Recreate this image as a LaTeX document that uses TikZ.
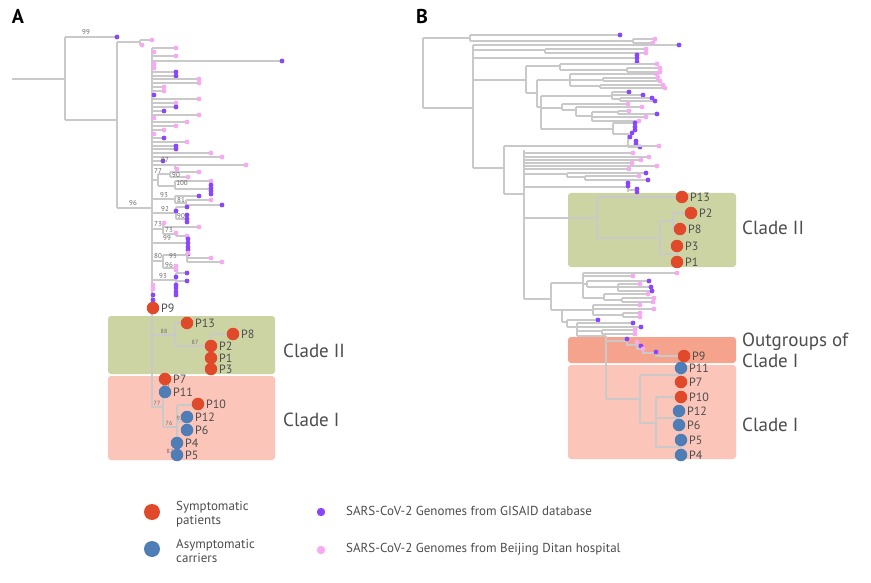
\documentclass[tikz,border=0pt]{standalone}
\usepackage{fontspec}
\setmainfont{PT Sans}
\definecolor{brc}{HTML}{C9C9C9}
\definecolor{gisc}{HTML}{8A46FF}
\definecolor{ditc}{HTML}{F8A9F4}
\definecolor{symc}{HTML}{E0492A}
\definecolor{asyc}{HTML}{4F7DB5}
\definecolor{c2bg}{HTML}{CDD4A4}
\definecolor{c1bg}{HTML}{FCC5BA}
\definecolor{ogbg}{HTML}{F5A38C}
\definecolor{txtc}{HTML}{4D4D4D}
\tikzset{
  br/.style={draw=brc, line width=1.7pt},
  gis/.style={fill=gisc},
  dit/.style={fill=ditc},
  sym/.style={circle, fill=symc, inner sep=0pt, minimum size=12.5pt},
  asy/.style={circle, fill=asyc, inner sep=0pt, minimum size=12.5pt},
  plab/.style={text=txtc, font=\fontsize{12}{14}\selectfont, inner sep=0pt, anchor=west},
  bs/.style={text=txtc!85, font=\fontsize{7}{8}\selectfont, inner sep=0pt},
  cladelab/.style={text=txtc, font=\fontsize{19}{21}\selectfont, inner sep=0pt, anchor=west},
  legt/.style={text=txtc, font=\fontsize{13}{13.5}\selectfont, inner sep=0pt, anchor=west, align=left},
  panel/.style={font=\fontsize{20}{20}\selectfont\bfseries, inner sep=0pt},
  bgbox/.style={rounded corners=3pt}
}
\newcommand\brH[3]{\draw[br] (#1,#3) -- (#2,#3);}
\newcommand\brV[3]{\draw[br] (#1,#2) -- (#1,#3);}
\newcommand\dG[2]{\fill[gis] (#1,#2) circle (2.4);}
\newcommand\dD[2]{\fill[dit] (#1,#2) circle (2.4);}
\newcommand\tipG[3]{\brH{#1}{#2}{#3}\dG{#2}{#3}}
\newcommand\tipD[3]{\brH{#1}{#2}{#3}\dD{#2}{#3}}
\newcommand\pat[5]{\node[#1] (#2) at (#3,#4) {}; \node[plab] (#2t) at ([xshift=1.5pt]#2.east) {#5};}
\begin{document}
\begin{tikzpicture}[x=1pt,y=-1pt]
\useasboundingbox[fill=white] (0,0) rectangle (871,583);
% ---------- backgrounds ----------
\fill[c2bg,bgbox] (108,316) rectangle (275,374);
\fill[c1bg,bgbox] (108,376) rectangle (275,460);
\fill[c2bg,bgbox] (568,193) rectangle (736,267);
\fill[ogbg,bgbox] (568,337) rectangle (736,363);
\fill[c1bg,bgbox] (568,365) rectangle (736,459);
\node[panel] (pa) at (18,16) {A};
\node[panel] (pb) at (422,17) {B};
% ================= PANEL A =================
\brH{12}{65}{79}
\brV{65}{37}{120}
\tipG{65}{117}{37}
\brH{65}{117}{120}
\brV{117}{42}{208}
\brH{117}{140}{42}\brV{140}{40}{45}
\tipD{140}{152}{40}\tipD{140}{142}{45}
\brH{117}{152}{208}
\brV{152}{48}{407}
% comb tips
\tipD{152}{176}{48}\dD{154}{52}\tipD{152}{176}{56}\tipG{152}{282}{61}
\dD{154}{64}\dD{154}{68}\tipG{152}{176}{72}\tipG{152}{176}{76}
\tipD{152}{199}{79}\tipD{152}{199}{83}\tipD{152}{164}{87}\tipD{152}{164}{91}
\dG{154}{95}\tipD{152}{199}{99}\tipD{152}{176}{103}\tipG{152}{176}{107}
\tipG{152}{164}{111}\tipD{152}{199}{115}\dD{154}{118}\tipD{152}{187}{122}
\tipD{152}{176}{126}\tipD{152}{164}{130}\dD{154}{134}\tipG{152}{164}{138}
\tipD{152}{187}{142}\tipG{152}{176}{146}\tipG{152}{176}{149}\tipD{152}{211}{153}
\tipD{152}{222}{157}\tipG{152}{163}{161}
% 87
\brH{152}{175}{165}\brV{175}{165}{169}\tipD{175}{246}{165}\tipD{175}{177}{169}
% 77 / 90 / 100
\brH{152}{158}{180}\brV{158}{174}{186}
\brH{158}{170}{174}\brV{170}{172}{177}\tipD{170}{199}{172}\tipD{170}{188}{177}
\brH{158}{175}{186}\brV{175}{181}{189}\tipD{175}{211}{181}\brH{175}{211}{189}
\dG{211}{185}\dG{211}{188}\dG{211}{191}\dG{211}{194}
% 93 / 81
\brH{152}{175}{199}\brV{175}{196}{203}\tipG{175}{199}{196}
\brH{175}{186}{203}\brV{186}{200}{205}\tipD{186}{211}{200}\tipG{186}{222}{205}
% 92 / 90
\brH{152}{176}{213}\brV{176}{207}{219}\tipG{176}{187}{207}\dG{176}{211}
\brH{176}{187}{219}\dG{187}{215}\dG{187}{219}\dG{187}{222}
% 73 / 73
\brH{152}{163}{229}\brV{163}{223}{234}\dD{164}{223}\tipD{163}{199}{227}
\brH{163}{176}{234}\brV{176}{233}{236}\dD{176}{233}\tipD{176}{187}{236}
% 99
\brH{152}{187}{243}\dG{188}{239}\dG{188}{243}\dG{188}{247}\dG{188}{250}\dG{188}{254}
% 80 / 95 / 96
\brH{152}{163}{261}\brV{163}{255}{268}
\brH{163}{187}{255}\brV{187}{253}{262}\dD{188}{253}\tipD{187}{211}{258}\tipD{187}{222}{262}
\brH{163}{176}{268}\dD{176}{266}\dD{176}{270}
% 93
\brH{152}{176}{280}\brV{176}{273}{295}\tipG{176}{187}{273}\tipG{176}{187}{281}
\dG{176}{277}\dG{176}{285}\dG{176}{288}\dG{176}{292}\dG{176}{295}
\dD{153}{285}\dD{153}{289}\dG{153}{295}\dG{153}{300}
% clade II A
\brH{152}{175}{335}\brV{175}{323}{346}
\brH{175}{187}{323}
\brH{175}{211}{346}\brV{211}{334}{369}
\brH{211}{233}{334}
% clade I A
\brH{152}{163}{407}\brV{163}{379}{427}
\brH{163}{177}{427}\brV{177}{405}{455}
\brH{177}{198}{405}
\brH{177}{187}{422}\brV{187}{417}{430}
% bootstrap labels A
\node[bs] (b1) at (86,32) {99};
\node[bs] (b2) at (165,160) {87};
\node[bs] (b3) at (158,171) {77};
\node[bs] (b4) at (176,175) {90};
\node[bs] (b5) at (182,183) {100};
\node[bs] (b6) at (164,195) {93};
\node[bs] (b7) at (181,200) {81};
\node[bs] (b8) at (133,203) {96};
\node[bs] (b9) at (165,209) {92};
\node[bs] (b10) at (181,216) {90};
\node[bs] (b11) at (158,224) {73};
\node[bs] (b12) at (169,230) {73};
\node[bs] (b13) at (167,238) {99};
\node[bs] (b14) at (158,256) {80};
\node[bs] (b15) at (173,256) {95};
\node[bs] (b16) at (169,265) {96};
\node[bs] (b17) at (163,276) {93};
\node[bs,font=\fontsize{6}{7}\selectfont] (b18) at (164,331) {88};
\node[bs,font=\fontsize{6}{7}\selectfont] (b19) at (195,342) {87};
\node[bs,font=\fontsize{6}{7}\selectfont] (b20) at (166,385) {80};
\node[bs,font=\fontsize{6}{7}\selectfont] (b21) at (157,403) {77};
\node[bs,font=\fontsize{6}{7}\selectfont] (b22) at (169,423) {76};
\node[bs,font=\fontsize{6}{7}\selectfont] (b23) at (180,418) {92};
\node[bs,font=\fontsize{6}{7}\selectfont] (b24) at (170,451) {82};
% patients A
\pat{sym}{aP9}{153}{308}{P9}
\pat{sym}{aP13}{187}{323}{P13}
\pat{sym}{aP8}{233}{334}{P8}
\pat{sym}{aP2}{211}{346}{P2}
\pat{sym}{aP1}{211}{358}{P1}
\pat{sym}{aP3}{211}{369}{P3}
\pat{sym}{aP7}{165}{379}{P7}
\pat{asy}{aP11}{165}{392}{P11}
\pat{sym}{aP10}{198}{404}{P10}
\pat{asy}{aP12}{187}{417}{P12}
\pat{asy}{aP6}{187}{430}{P6}
\pat{asy}{aP4}{177}{443}{P4}
\pat{asy}{aP5}{177}{455}{P5}
\node[cladelab] (aC2) at (283,351) {Clade II};
\node[cladelab] (aC1) at (283,420) {Clade I};
% ================= PANEL B =================
\brV{423}{38}{108}\brH{423}{470}{38}\brH{423}{473}{108}
\brV{470}{35}{41}\tipG{470}{620}{35}\brH{470}{633}{41}\brV{633}{39}{43}
\tipD{633}{655}{39}\tipD{633}{653}{43}
\brV{473}{45}{168}
\tipG{473}{679}{45}
\brH{473}{545}{50}\brV{545}{49}{53}\tipD{545}{646}{49}\tipD{545}{646}{53}
\brH{473}{637}{58}\dG{637}{55}\dG{637}{58}\dG{637}{62}
\brH{473}{526}{80}\brV{526}{66}{93}
\brH{526}{560}{66}\brV{560}{64}{70}\tipD{560}{657}{64}
\brH{560}{627}{70}\brV{627}{68}{72}\tipD{627}{660}{68}\tipD{627}{660}{72}
\brH{526}{537}{93}\brV{537}{80}{107}
\brH{537}{570}{80}\brV{570}{74}{86}\tipD{570}{657}{74}
\brH{570}{603}{80}\brV{603}{78}{81}\tipD{603}{658}{78}\tipD{603}{660}{81}
\brH{570}{600}{86}\brV{600}{85}{88}\tipD{600}{663}{85}\tipD{600}{665}{88}
\brH{537}{541}{107}\brV{541}{96}{129}
\brH{541}{612}{96}\brV{612}{92}{99}\tipG{612}{629}{92}\tipG{612}{643}{95}
\brH{612}{620}{99}\brV{620}{98}{101}\tipG{620}{652}{98}\tipG{620}{655}{101}
\brH{541}{562}{108}\brV{562}{104}{110}\tipD{562}{628}{104}
\brH{562}{576}{110}\brV{576}{107}{116}\tipD{576}{642}{107}
\brH{576}{592}{116}\brV{592}{112}{121}
\brH{592}{618}{112}\brV{618}{111}{114}\tipD{618}{629}{111}\tipG{618}{657}{114}
\tipD{592}{646}{117}\tipD{592}{639}{121}
\brH{541}{613}{129}\brV{613}{123}{134}\tipG{613}{635}{123}\dG{635}{127}\dG{635}{130}
\brH{613}{628}{134}\brV{628}{133}{147}\dG{632}{133}\dG{630}{137}\dG{636}{141}\dG{636}{144}\tipG{628}{640}{147}
% lower-upper B
\brH{473}{504}{168}\brV{504}{146}{194}
\tipD{504}{659}{146}
\brH{504}{524}{194}
\brV{524}{150}{299}
\tipD{524}{633}{153}\tipD{524}{649}{157}\tipD{524}{641}{160}\tipD{524}{632}{163}
\tipD{524}{657}{166}\tipD{524}{629}{169}
\brH{524}{567}{174}\brV{567}{173}{177}\tipG{567}{646}{173}
\brH{567}{585}{177}\brV{585}{176}{180}\tipD{585}{639}{176}\tipG{585}{648}{180}
\brH{524}{628}{187}\brV{628}{183}{192}\dG{628}{183}\dG{628}{186}
\brH{628}{637}{190}\dG{637}{189}\dG{637}{192}
% clade II B
\brH{524}{597}{218}\brV{597}{197}{238}
\brH{597}{682}{197}
\brH{597}{660}{238}\brV{660}{221}{254}
\brH{660}{673}{221}\brV{673}{213}{229}
\brH{673}{691}{213}\brH{673}{680}{229}
\brH{660}{677}{254}\brV{677}{246}{262}
% lower B
\brH{524}{551}{299}\brV{551}{283}{310}
\brH{551}{583}{283}\brV{583}{273}{298}
\tipD{583}{677}{273}\tipD{583}{633}{276}
\brH{583}{587}{284}\brV{587}{281}{287}\tipG{587}{649}{281}
\brH{587}{618}{287}\brV{618}{284}{291}\tipD{618}{640}{284}\tipG{618}{651}{287}\tipG{618}{652}{291}
\brH{583}{604}{298}\brV{604}{294}{300}\tipD{604}{648}{294}
\brH{604}{622}{300}\brV{622}{298}{302}\tipD{622}{654}{298}\tipD{622}{653}{302}
\brH{551}{562}{310}\brV{562}{310}{322}
\brH{562}{593}{310}\brV{593}{305}{315}\tipD{593}{640}{305}\tipD{593}{654}{309}
\brH{593}{623}{315}\brV{623}{313}{317}\tipD{623}{640}{313}\tipD{623}{640}{317}
\brH{562}{567}{322}\brV{567}{320}{327}\tipG{567}{598}{320}
\brH{567}{577}{327}\brV{577}{323}{336}\tipG{577}{633}{323}\tipG{577}{641}{327}
\brH{577}{602}{331}\brV{602}{330}{334}\tipD{602}{635}{330}\tipD{602}{635}{334}
\brH{577}{606}{336}\brV{606}{336}{399}
% outgroup path
\coordinate (og0) at (606,341);
% clade I B
\brH{606}{640}{399}\brV{640}{375}{423}
\brH{640}{681}{375}\brV{681}{368}{382}
\brH{640}{656}{423}\brV{656}{397}{447}
\brH{656}{681}{397}
\brH{656}{679}{418}\brV{679}{411}{425}
\brH{656}{681}{447}\brV{681}{440}{455}
% patients B
\pat{sym}{bP13}{682}{197}{P13}
\pat{sym}{bP2}{691}{213}{P2}
\pat{sym}{bP8}{680}{229}{P8}
\pat{sym}{bP3}{677}{246}{P3}
\pat{sym}{bP1}{677}{262}{P1}
\pat{sym}{bP9}{684}{356}{P9}
\draw[br] (og0) -| (627,345) -| (637,349) -| (643,353) -| (656,356) -- (bP9);
\dG{627}{339}\dD{637}{342}\dG{641}{346}\dD{643}{349}\dG{656}{352}
\pat{asy}{bP11}{681}{368}{P11}
\pat{sym}{bP7}{681}{382}{P7}
\pat{sym}{bP10}{681}{397}{P10}
\pat{asy}{bP12}{679}{411}{P12}
\pat{asy}{bP6}{679}{425}{P6}
\pat{asy}{bP5}{681}{440}{P5}
\pat{asy}{bP4}{681}{455}{P4}
\node[cladelab] (bC2) at (742,228) {Clade II};
\node[cladelab, align=left] (bOG) at (742,350) {Outgroups of\\Clade I};
\node[cladelab] (bC1) at (742,425) {Clade I};
% ================= LEGEND =================
\node[sym, minimum size=16pt] (lsym) at (152,512) {};
\node[legt] (lsymt) at (176,514) {Symptomatic\\patients};
\node[asy, minimum size=16pt] (lasy) at (152,549) {};
\node[legt] (lasyt) at (176,551) {Asymptomatic\\carriers};
\fill[gis] (321,512) circle (4.2);
\node[legt] (lgis) at (346,511) {SARS-CoV-2 Genomes from GISAID database};
\fill[dit] (321,550) circle (4.2);
\node[legt] (ldit) at (346,549) {SARS-CoV-2 Genomes from Beijing Ditan hospital};
\end{tikzpicture}
\end{document}
